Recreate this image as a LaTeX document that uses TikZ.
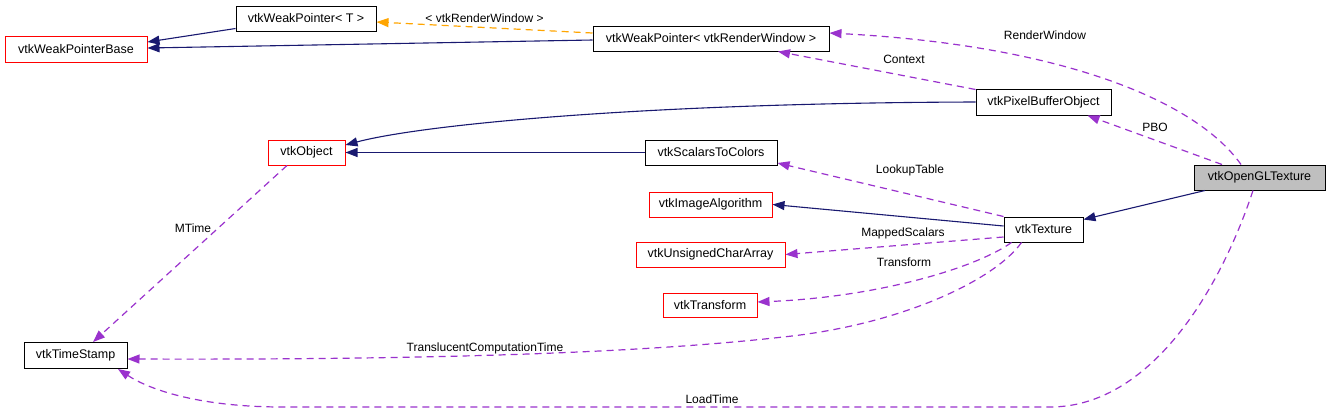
\documentclass[tikz,border=0pt]{standalone}
\usepackage{fontspec}
\setmainfont{Liberation Sans}
\usetikzlibrary{arrows.meta}
\definecolor{navy}{HTML}{191970}
\definecolor{purp}{HTML}{9A32CD}
\definecolor{orng}{HTML}{FFA500}
\definecolor{gfill}{HTML}{BFBFBF}
\tikzset{
  box/.style={draw=black, line width=1pt, inner sep=0pt, fill=white, font=\fontsize{12.5pt}{14pt}\selectfont},
  redbox/.style={box, draw=red},
  inh/.style={draw=navy, line width=1.1pt, -{Triangle[length=12pt,width=9pt]}},
  use/.style={draw=purp, line width=1.2pt, dash pattern=on 7pt off 5pt, -{Triangle[length=12pt,width=9pt]}},
  tmpl/.style={draw=orng, line width=1.2pt, dash pattern=on 7pt off 5pt, -{Triangle[length=12pt,width=9pt]}},
  lab/.style={inner sep=0pt, font=\fontsize{12pt}{14pt}\selectfont}
}
\begin{document}
\begin{tikzpicture}[x=1pt,y=-1pt]
\useasboundingbox (0,0) rectangle (1331,413);
% nodes
\node[redbox, minimum width=142pt, minimum height=26pt] (wpb) at (76,49) {vtkWeakPointerBase};
\node[box, minimum width=140pt, minimum height=25pt] (wpT) at (306,18.5) {vtkWeakPointer< T >};
\node[box, minimum width=236pt, minimum height=25pt] (wpRW) at (711,38.5) {vtkWeakPointer< vtkRenderWindow >};
\node[box, minimum width=135pt, minimum height=26pt] (pbo) at (1043.5,102) {vtkPixelBufferObject};
\node[redbox, minimum width=77pt, minimum height=25pt] (obj) at (306.5,152.5) {vtkObject};
\node[box, minimum width=132pt, minimum height=25pt] (s2c) at (711,152.5) {vtkScalarsToColors};
\node[box, fill=gfill, minimum width=131pt, minimum height=25pt] (ogl) at (1259.5,177.5) {vtkOpenGLTexture};
\node[redbox, minimum width=123pt, minimum height=25pt] (ia) at (710.5,204.5) {vtkImageAlgorithm};
\node[box, minimum width=79pt, minimum height=25pt] (tex) at (1043.5,229.5) {vtkTexture};
\node[redbox, minimum width=149pt, minimum height=25pt] (uca) at (710.5,254.5) {vtkUnsignedCharArray};
\node[redbox, minimum width=94pt, minimum height=24pt] (tr) at (710,305) {vtkTransform};
\node[box, minimum width=103pt, minimum height=26pt] (ts) at (75.5,355.5) {vtkTimeStamp};
% inheritance
\draw[inh] ([yshift=3pt]wpT.south west) -- ([yshift=7pt]wpb.east);
\draw[inh] ([yshift=-1.5pt]wpRW.west) -- ([yshift=1pt]wpb.east);
\draw[inh] (pbo.west) .. controls +(-336,1) and +(75,-20) .. ([yshift=7.5pt]obj.east);
\draw[inh] (s2c.west) -- (obj.east);
\draw[inh] ([xshift=-54.5pt]ogl.south) -- ([yshift=10pt]tex.east);
\draw[inh] ([yshift=3.5pt]tex.west) -- (ia.east);
% template
\draw[tmpl] ([yshift=5.5pt]wpRW.west) -- node[lab, pos=0.5, yshift=9pt] {< vtkRenderWindow >} ([yshift=-3.5pt]wpT.east);
% usage
\draw[use] ([xshift=-18.5pt]ogl.north) .. controls +(-46,-65) and +(229,12) .. ([yshift=5.5pt]wpRW.east);
\node[lab] (lrw) at (1045,35) {RenderWindow};
\draw[use] ([yshift=-1pt]pbo.north west) -- ([xshift=67pt]wpRW.south);
\node[lab] (lctx) at (904,59) {Context};
\draw[use] ([xshift=-37.5pt]ogl.north) -- ([xshift=44pt]pbo.south);
\node[lab] (lpbo) at (1155,127) {PBO};
\draw[use] (tex.north west) -- ([yshift=2.5pt]s2c.south east);
\node[lab] (llt) at (910,170) {LookupTable};
\draw[use] ([yshift=-7.5pt]tex.west) -- (uca.east);
\node[lab] (lms) at (903,233) {MappedScalars};
\draw[use] ([xshift=8pt]tex.south west) .. controls +(-35,25) and +(122,-5) .. ([yshift=3pt]tr.east);
\node[lab] (ltr) at (904,262) {Transform};
\coordinate (t1) at (783,337);
\draw[use] ([xshift=18pt]tex.south west) .. controls +(-27,38) and +(117,-12) .. (t1) .. controls +(-133,15) and +(323,1) .. ([yshift=-3.5pt]ts.east);
\node[lab] (ltct) at (485,348) {TranslucentComputationTime};
\coordinate (c1) at (1050,407);
\coordinate (c2) at (283,407);
\draw[use] ([xshift=-6.5pt]ogl.south) .. controls +(-33,100) and +(100,0) .. (c1) -- (c2) .. controls +(-83,0) and +(32,21) .. ([xshift=42.5pt]ts.south);
\node[lab] (llt2) at (712,399) {LoadTime};
\draw[use] ([xshift=-19.5pt]obj.south) -- ([xshift=17.5pt]ts.north);
\node[lab] (lmt) at (193,228) {MTime};
\end{tikzpicture}
\end{document}
